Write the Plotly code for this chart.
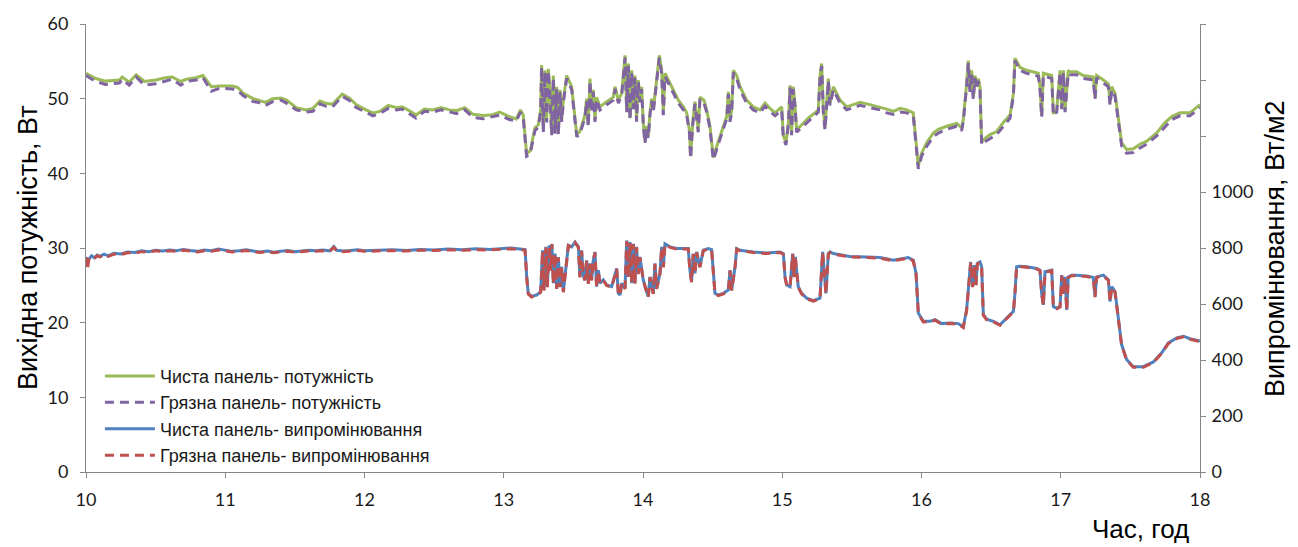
import plotly.graph_objects as go

# ---- Output power, W (time in hours) ----
t_pow = [
    10.00, 10.07, 10.14, 10.24, 10.26, 10.31, 10.36, 10.42, 10.50, 10.57,
    10.62, 10.68, 10.72, 10.79, 10.84, 10.90, 10.96, 11.05, 11.09, 11.13,
    11.20, 11.24, 11.29, 11.34, 11.40, 11.44, 11.51, 11.58, 11.63, 11.68,
    11.72, 11.77, 11.84, 11.89, 11.94, 12.01, 12.06, 12.11, 12.17, 12.23,
    12.27, 12.32, 12.37, 12.43, 12.49, 12.55, 12.61, 12.66, 12.72, 12.78,
    12.85, 12.91, 12.97, 13.04, 13.09, 13.12, 13.14, 13.164, 13.19, 13.224,
    13.248, 13.265, 13.272, 13.284, 13.296, 13.308, 13.32, 13.332, 13.344, 13.356,
    13.368, 13.38, 13.392, 13.404, 13.416, 13.428, 13.452, 13.488, 13.524, 13.547,
    13.583, 13.595, 13.607, 13.619, 13.631, 13.643, 13.655, 13.667, 13.691, 13.739,
    13.787, 13.799, 13.823, 13.847, 13.871, 13.883, 13.895, 13.907, 13.919, 13.931,
    13.942, 13.954, 13.966, 13.978, 13.99, 14.002, 14.014, 14.026, 14.038, 14.05,
    14.062, 14.074, 14.098, 14.117, 14.134, 14.146, 14.158, 14.182, 14.218, 14.254,
    14.29, 14.314, 14.333, 14.342, 14.357, 14.373, 14.397, 14.409, 14.438, 14.457,
    14.481, 14.505, 14.529, 14.565, 14.601, 14.613, 14.625, 14.637, 14.649, 14.673,
    14.697, 14.744, 14.792, 14.84, 14.876, 14.912, 14.948, 14.996, 15.008, 15.027,
    15.044, 15.056, 15.067, 15.079, 15.091, 15.103, 15.139, 15.187, 15.235, 15.259,
    15.271, 15.283, 15.295, 15.307, 15.331, 15.343, 15.367, 15.415, 15.463, 15.558,
    15.63, 15.702, 15.75, 15.798, 15.846, 15.894, 15.941, 15.961, 15.977, 16.001,
    16.037, 16.085, 16.121, 16.181, 16.253, 16.288, 16.3, 16.324, 16.336, 16.348,
    16.36, 16.372, 16.384, 16.396, 16.408, 16.42, 16.432, 16.444, 16.492, 16.54,
    16.588, 16.636, 16.66, 16.671, 16.707, 16.755, 16.803, 16.839, 16.851, 16.863,
    16.875, 16.899, 16.935, 16.947, 16.959, 16.971, 16.983, 16.995, 17.007, 17.019,
    17.031, 17.043, 17.054, 17.066, 17.114, 17.162, 17.21, 17.234, 17.246, 17.258,
    17.306, 17.342, 17.354, 17.366, 17.39, 17.414, 17.437, 17.473, 17.521, 17.569,
    17.617, 17.689, 17.749, 17.797, 17.856, 17.928, 17.976, 18.0,
]

p_clean = [
    53.4, 52.7, 52.35, 52.5, 52.9, 52.2, 53.2, 52.3, 52.5, 52.8,
    52.9, 52.3, 52.6, 52.8, 53.1, 51.6, 51.7, 51.7, 51.5, 50.7,
    50.0, 49.8, 49.5, 50.0, 50.1, 49.8, 48.8, 48.5, 48.7, 49.7,
    49.4, 49.25, 50.6, 50.1, 49.2, 48.5, 48.1, 48.3, 49.1, 48.8,
    48.9, 48.4, 47.8, 48.6, 48.5, 48.8, 48.5, 48.4, 48.8, 47.9,
    47.75, 47.8, 48.2, 47.6, 47.3, 48.5, 47.8, 42.6, 43.0, 46.1,
    46.5, 48.5, 54.5, 45.8, 53.8, 47.2, 54.0, 50.7, 45.4, 53.1,
    45.6, 51.6, 45.4, 51.2, 47.2, 49.8, 53.1, 51.6, 45.2, 45.6,
    47.8, 50.0, 46.5, 52.7, 48.5, 51.2, 47.2, 50.2, 48.9, 49.6,
    50.2, 51.6, 49.8, 50.7, 55.8, 48.5, 54.7, 47.4, 53.8, 48.9,
    53.1, 47.2, 52.5, 49.8, 51.6, 46.8, 44.3, 46.3, 45.0, 48.1,
    50.0, 48.5, 53.1, 55.8, 53.8, 48.1, 53.4, 52.5, 51.2, 49.8,
    48.9, 48.1, 45.8, 42.3, 46.8, 49.6, 45.8, 50.2, 49.8, 48.5,
    46.3, 42.1, 43.6, 45.6, 47.6, 50.9, 47.2, 48.5, 53.8, 53.1,
    51.6, 49.8, 48.9, 48.5, 49.4, 48.7, 48.1, 48.9, 45.0, 44.1,
    46.8, 51.8, 45.4, 51.6, 49.4, 45.8, 46.5, 47.4, 48.1, 48.5,
    53.1, 54.7, 48.5, 46.1, 52.7, 49.4, 51.6, 49.8, 48.9, 49.5,
    49.2, 48.9, 48.6, 48.3, 48.7, 48.5, 48.1, 44.1, 41.0, 42.7,
    44.1, 45.4, 45.9, 46.3, 46.7, 46.1, 47.2, 52.0, 55.1, 51.2,
    53.8, 50.2, 53.1, 51.6, 52.7, 51.6, 44.1, 44.5, 45.2, 45.6,
    46.8, 47.8, 50.7, 55.4, 54.2, 53.8, 53.6, 53.4, 51.6, 47.8,
    53.4, 53.3, 53.1, 48.1, 48.1, 48.5, 51.2, 53.8, 48.9, 53.8,
    48.5, 51.6, 53.8, 53.6, 53.6, 53.1, 52.9, 52.9, 50.2, 53.1,
    52.5, 52.0, 49.4, 51.6, 50.7, 47.2, 44.1, 43.2, 43.3, 43.9,
    44.3, 45.4, 46.8, 47.6, 48.1, 48.1, 48.8, 49.2,
]

p_dirty = [
    53.1, 52.3, 51.9, 52.1, 52.6, 51.8, 52.9, 51.8, 52.0, 52.4,
    52.6, 51.8, 52.3, 52.5, 52.8, 51.0, 51.4, 51.3, 51.1, 50.4,
    49.6, 49.5, 49.1, 49.6, 49.8, 49.4, 48.5, 48.2, 48.3, 49.3,
    49.0, 48.9, 50.3, 49.8, 48.8, 48.2, 47.7, 48.0, 48.7, 48.5,
    48.6, 48.0, 47.4, 48.3, 48.2, 48.5, 48.2, 48.0, 48.5, 47.5,
    47.3, 47.5, 47.8, 47.2, 47.0, 48.2, 47.4, 42.3, 42.6, 45.7,
    46.2, 48.2, 54.2, 45.5, 53.5, 46.8, 53.7, 50.4, 45.1, 52.8,
    45.3, 51.3, 45.1, 50.9, 46.9, 49.5, 52.7, 51.2, 44.9, 45.3,
    47.4, 49.7, 46.2, 52.4, 48.2, 50.9, 46.9, 49.9, 48.5, 49.2,
    49.8, 51.3, 49.4, 50.4, 55.5, 48.2, 54.4, 47.1, 53.5, 48.6,
    52.8, 46.9, 52.2, 49.5, 51.3, 46.5, 44.0, 46.0, 44.7, 47.8,
    49.7, 48.2, 52.8, 55.5, 53.4, 47.8, 53.0, 52.1, 50.8, 49.4,
    48.5, 47.8, 45.5, 42.0, 46.5, 49.3, 45.5, 49.9, 49.4, 48.2,
    46.0, 41.8, 43.2, 45.2, 47.3, 50.6, 46.9, 48.2, 53.5, 52.7,
    51.2, 49.4, 48.5, 48.1, 49.0, 48.3, 47.7, 48.5, 44.7, 43.8,
    46.5, 51.5, 45.1, 51.3, 49.1, 45.5, 46.1, 47.0, 47.7, 48.2,
    52.8, 54.4, 48.2, 45.8, 52.4, 49.1, 51.2, 49.4, 48.5, 49.1,
    48.8, 48.5, 48.1, 47.9, 48.2, 48.1, 47.7, 43.8, 40.6, 42.3,
    43.6, 44.9, 45.4, 45.9, 46.3, 45.7, 46.9, 51.7, 54.8, 50.9,
    53.5, 49.9, 52.8, 51.3, 52.4, 51.3, 43.8, 44.1, 44.7, 45.2,
    46.3, 47.4, 50.4, 55.1, 53.8, 53.4, 53.2, 53.0, 51.3, 47.5,
    53.1, 52.9, 52.7, 47.8, 47.8, 48.2, 50.9, 53.5, 48.6, 53.5,
    48.2, 51.3, 53.4, 53.2, 53.2, 52.7, 52.5, 52.5, 49.9, 52.8,
    52.1, 51.6, 49.1, 51.2, 50.3, 46.8, 43.7, 42.7, 42.8, 43.4,
    43.9, 45.0, 46.3, 47.2, 47.7, 47.7, 48.4, 48.8,
]

# ---- Irradiance, W/m2 (time in hours) ----
t_irr = [
    10.00, 10.01, 10.02, 10.04, 10.06, 10.08, 10.10, 10.13, 10.16, 10.20,
    10.25, 10.30, 10.35, 10.40, 10.45, 10.50, 10.55, 10.60, 10.65, 10.70,
    10.75, 10.80, 10.85, 10.90, 10.95, 11.00, 11.05, 11.10, 11.15, 11.20,
    11.25, 11.30, 11.35, 11.40, 11.45, 11.50, 11.55, 11.60, 11.65, 11.70,
    11.75, 11.78, 11.80, 11.85, 11.90, 11.95, 12.00, 12.10, 12.20, 12.30,
    12.40, 12.50, 12.60, 12.70, 12.80, 12.90, 13.00, 13.05, 13.10, 13.153,
    13.165, 13.176, 13.20, 13.236, 13.265, 13.279, 13.289, 13.303, 13.313, 13.327,
    13.337, 13.346, 13.356, 13.368, 13.38, 13.392, 13.404, 13.416, 13.428, 13.452,
    13.464, 13.488, 13.512, 13.536, 13.547, 13.559, 13.571, 13.583, 13.595, 13.607,
    13.619, 13.631, 13.643, 13.655, 13.667, 13.679, 13.691, 13.715, 13.739, 13.775,
    13.799, 13.811, 13.823, 13.835, 13.847, 13.871, 13.883, 13.895, 13.907, 13.919,
    13.931, 13.942, 13.954, 13.966, 13.978, 14.002, 14.026, 14.038, 14.05, 14.074,
    14.086, 14.098, 14.122, 14.134, 14.146, 14.158, 14.194, 14.242, 14.29, 14.325,
    14.337, 14.349, 14.361, 14.373, 14.385, 14.409, 14.433, 14.469, 14.493, 14.505,
    14.517, 14.541, 14.577, 14.613, 14.625, 14.637, 14.661, 14.673, 14.697, 14.792,
    14.888, 14.984, 15.008, 15.02, 15.032, 15.056, 15.075, 15.085, 15.094, 15.103,
    15.115, 15.139, 15.175, 15.223, 15.271, 15.29, 15.30, 15.314, 15.331, 15.343,
    15.367, 15.486, 15.606, 15.702, 15.798, 15.905, 15.941, 15.961, 15.977, 16.013,
    16.061, 16.097, 16.145, 16.205, 16.265, 16.30, 16.324, 16.343, 16.353, 16.367,
    16.379, 16.391, 16.401, 16.42, 16.432, 16.444, 16.468, 16.516, 16.564, 16.612,
    16.66, 16.671, 16.683, 16.707, 16.755, 16.827, 16.851, 16.863, 16.875, 16.887,
    16.935, 16.947, 16.971, 16.995, 17.007, 17.019, 17.031, 17.043, 17.054, 17.078,
    17.114, 17.186, 17.234, 17.246, 17.258, 17.306, 17.342, 17.354, 17.366, 17.39,
    17.414, 17.437, 17.473, 17.521, 17.593, 17.665, 17.725, 17.773, 17.833, 17.881,
    17.928, 17.988, 18.0,
]

g_clean = [
    768, 745, 760, 772, 765, 775, 770, 778, 772, 781,
    779, 786, 784, 790, 787, 792, 789, 793, 790, 795,
    791, 788, 793, 790, 796, 792, 788, 790, 794, 789,
    786, 789, 785, 788, 791, 787, 789, 792, 790, 793,
    790, 805, 792, 789, 791, 794, 790, 792, 794, 791,
    795, 793, 796, 794, 797, 795, 798, 800, 797, 794,
    697, 638, 627, 632, 644, 792, 650, 804, 662, 810,
    721, 815, 674, 780, 656, 768, 662, 733, 644, 768,
    810, 804, 821, 804, 697, 792, 703, 686, 756, 674,
    745, 686, 756, 786, 662, 721, 674, 686, 668, 662,
    703, 727, 638, 632, 674, 656, 827, 697, 821, 674,
    815, 674, 804, 709, 768, 686, 644, 627, 697, 638,
    745, 656, 709, 804, 733, 815, 804, 798, 798, 798,
    721, 680, 780, 709, 786, 733, 792, 798, 794, 697,
    638, 632, 638, 650, 721, 650, 733, 798, 792, 786,
    782, 786, 780, 697, 668, 662, 780, 697, 768, 721,
    662, 638, 621, 612, 621, 786, 721, 638, 780, 786,
    780, 770, 768, 766, 756, 766, 756, 709, 568, 538,
    538, 544, 530, 532, 530, 518, 579, 686, 750, 662,
    739, 668, 745, 750, 733, 562, 546, 538, 526, 550,
    574, 638, 733, 735, 733, 727, 721, 638, 597, 715,
    721, 591, 585, 591, 703, 638, 697, 579, 697, 703,
    703, 700, 695, 627, 697, 703, 686, 609, 662, 644,
    544, 455, 402, 376, 376, 393, 426, 461, 479, 485,
    476, 470, 468,
]

g_dirty = [
    766, 722, 758, 769, 763, 772, 768, 776, 770, 778,
    777, 783, 782, 787, 785, 790, 787, 790, 788, 792,
    789, 786, 790, 788, 793, 790, 786, 788, 791, 787,
    784, 787, 783, 786, 788, 785, 787, 789, 788, 790,
    788, 802, 790, 787, 789, 791, 788, 790, 791, 789,
    792, 791, 793, 792, 794, 793, 795, 797, 795, 792,
    695, 636, 625, 630, 642, 790, 648, 802, 660, 808,
    719, 813, 672, 778, 654, 766, 660, 731, 642, 766,
    808, 802, 819, 802, 695, 790, 701, 684, 754, 672,
    743, 684, 754, 784, 660, 719, 672, 684, 666, 660,
    701, 725, 636, 630, 672, 654, 825, 695, 819, 672,
    813, 672, 802, 707, 766, 684, 642, 625, 695, 636,
    743, 654, 707, 802, 731, 813, 802, 796, 796, 796,
    719, 678, 778, 707, 784, 731, 790, 796, 792, 695,
    636, 630, 636, 648, 719, 648, 731, 796, 790, 784,
    780, 784, 778, 695, 666, 660, 778, 695, 766, 719,
    660, 636, 619, 610, 619, 784, 719, 636, 778, 784,
    778, 768, 766, 764, 754, 764, 754, 707, 566, 536,
    536, 542, 528, 530, 528, 516, 577, 684, 748, 660,
    737, 666, 743, 748, 731, 560, 544, 536, 524, 548,
    572, 636, 731, 733, 731, 725, 719, 636, 595, 713,
    719, 589, 583, 589, 701, 636, 695, 577, 695, 701,
    701, 698, 693, 625, 695, 701, 684, 607, 660, 642,
    542, 453, 400, 374, 374, 391, 424, 459, 477, 483,
    474, 468, 466,
]

x_ticks = [10, 11, 12, 13, 14, 15, 16, 17, 18]
y_ticks = [0, 10, 20, 30, 40, 50, 60]
y2_ticks = [0, 200, 400, 600, 800, 1000, 1200, 1400, 1600]
y2_labels = ["0", "200", "400", "600", "800", "1000", "", "", ""]

GREEN = "#9BBB59"
PURPLE = "#8064A2"
BLUE = "#4F81BD"
RED = "#C0504D"
AXIS = "#868686"
TICK_FONT = dict(family="Lato, Liberation Sans, sans-serif", size=18, color="#1a1a1a")
TITLE_FONT = dict(family="Liberation Sans, Arial, sans-serif", size=27, color="#000000")

fig = go.Figure()
fig.add_trace(go.Scatter(
    x=t_pow, y=p_clean, mode="lines", name="Чиста панель- потужність",
    line=dict(color=GREEN, width=3), yaxis="y"))
fig.add_trace(go.Scatter(
    x=t_pow, y=p_dirty, mode="lines", name="Грязна панель- потужність",
    line=dict(color=PURPLE, width=3, dash="9px,6px"), yaxis="y"))
fig.add_trace(go.Scatter(
    x=t_irr, y=g_clean, mode="lines", name="Чиста панель- випромінювання",
    line=dict(color=BLUE, width=3), yaxis="y2"))
fig.add_trace(go.Scatter(
    x=t_irr, y=g_dirty, mode="lines", name="Грязна панель- випромінювання",
    line=dict(color=RED, width=3, dash="9px,6px"), yaxis="y2"))

axis_style = dict(
    showline=True, linecolor=AXIS, linewidth=1, ticks="outside", ticklen=5,
    tickcolor=AXIS, tickwidth=1, showgrid=False, zeroline=False, tickfont=TICK_FONT,
)

fig.update_layout(
    width=1298, height=547,
    margin=dict(l=86, r=98, t=20, b=75),
    plot_bgcolor="white", paper_bgcolor="white",
    xaxis=dict(range=[10, 18], tickvals=x_ticks, ticklabelstandoff=6, **axis_style),
    yaxis=dict(range=[0, 60], tickvals=y_ticks, ticklabelstandoff=8, **axis_style),
    yaxis2=dict(range=[0, 1600], tickvals=y2_ticks, ticktext=y2_labels,
                overlaying="y", side="right", ticklabelstandoff=2, **axis_style),
    legend=dict(
        x=0.0125, y=0.255, xanchor="left", yanchor="top",
        bgcolor="rgba(0,0,0,0)", tracegroupgap=0, itemwidth=50,
        font=dict(family="Liberation Sans, Arial, sans-serif", size=18, color="#1a1a1a"),
    ),
    annotations=[
        dict(text="Вихідна потужність, Вт", xref="paper", yref="paper",
             x=-0.052, y=0.5, xanchor="center", yanchor="middle",
             textangle=-90, showarrow=False, font=TITLE_FONT),
        dict(text="Випромінювання, Вт/м2", xref="paper", yref="paper",
             x=1.0673, y=0.5, xanchor="center", yanchor="middle",
             textangle=-90, showarrow=False, font=TITLE_FONT),
        dict(text="Час, год", xref="paper", yref="paper",
             x=0.9915, y=-0.128, xanchor="right", yanchor="middle",
             showarrow=False,
             font=dict(family="Liberation Sans, Arial, sans-serif", size=26, color="#000000")),
    ],
)

fig.write_html("out.html")
